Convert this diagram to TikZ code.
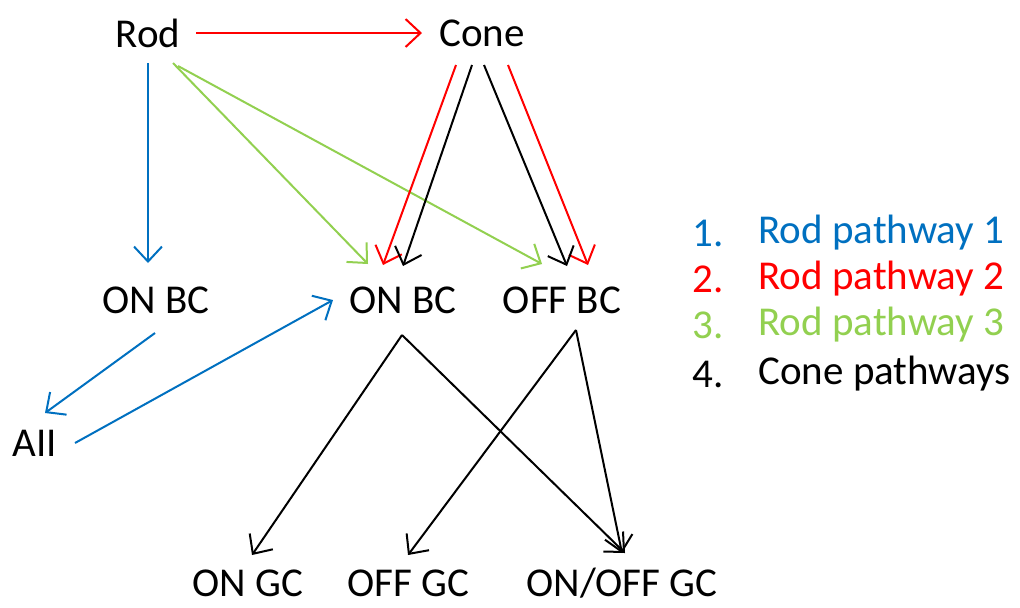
\documentclass[tikz,border=0pt]{standalone}
\usepackage{fontspec}
\setmainfont{Carlito}
\usetikzlibrary{arrows.meta}
\definecolor{rodblue}{RGB}{0,112,192}
\definecolor{rodred}{RGB}{255,0,0}
\definecolor{rodgreen}{RGB}{146,208,80}
\tikzset{
    cell/.style={inner sep=0pt, font=\fontsize{20.5}{24}\selectfont},
    legend/.style={cell, anchor=west},
    link/.style={-{Straight Barb[length=7.5pt,width=14pt]}, line width=1pt},
    bluelink/.style={link, draw=rodblue},
    redlink/.style={link, draw=rodred},
    greenlink/.style={link, draw=rodgreen},
    conelink/.style={link, draw=black}
}
\begin{document}
\begin{tikzpicture}[x=0.5pt, y=-0.5pt]
    \useasboundingbox (0,0) rectangle (1020,607);
    \node[cell] (rod) at (148,33) {Rod};
    \node[cell] (cone) at (482,33) {Cone};
    \node[cell] (onbc-left) at (156,300) {ON BC};
    \node[cell] (onbc) at (403,300) {ON BC};
    \node[cell] (offbc) at (562,300) {OFF BC};
    \node[cell] (aii) at (35,443) {AII};
    \node[cell] (ongc) at (248,583) {ON GC};
    \node[cell] (offgc) at (408,583) {OFF GC};
    \node[cell] (onoffgc) at (622,583) {ON/OFF GC};
    % legend
    \node[legend, text=rodblue] (num1) at (692,233) {1.};
    \node[legend, text=rodblue] (leg1) at (758,233) {Rod pathway 1};
    \node[legend, text=rodred] (num2) at (692,279) {2.};
    \node[legend, text=rodred] (leg2) at (758,279) {Rod pathway 2};
    \node[legend, text=rodgreen] (num3) at (692,325) {3.};
    \node[legend, text=rodgreen] (leg3) at (758,325) {Rod pathway 3};
    \node[legend] (num4) at (692,374) {4.};
    \node[legend] (leg4) at (758,374) {Cone pathways};
    % rod pathways
    \draw[redlink] ([shift={(48,0)}]rod.center) -- ([shift={(-60,0)}]cone.center);
    \draw[bluelink] ([shift={(0,30)}]rod.center) -- ([shift={(-8,-37)}]onbc-left.center);
    \draw[greenlink] ([shift={(25,30)}]rod.center) -- ([shift={(-35,-36)}]onbc.center);
    \draw[greenlink] ([shift={(30,33)}]rod.center) -- ([shift={(-20,-36)}]offbc.center);
    \draw[redlink] ([shift={(-26,32)}]cone.center) -- ([shift={(-20,-35)}]onbc.center);
    \draw[redlink] ([shift={(26,32)}]cone.center) -- ([shift={(26,-35)}]offbc.center);
    \draw[bluelink] ([shift={(-1,33)}]onbc-left.center) -- ([shift={(10,-30)}]aii.center);
    \draw[bluelink] ([shift={(40,0)}]aii.center) -- ([shift={(-70,0)}]onbc.center);
    % cone pathways
    \draw[conelink] ([shift={(-10,32)}]cone.center) -- ([shift={(0,-34)}]onbc.center);
    \draw[conelink] ([shift={(2,32)}]cone.center) -- ([shift={(5,-34)}]offbc.center);
    \draw[conelink] ([shift={(-1,35)}]onbc.center) -- ([shift={(4,-28)}]ongc.center);
    \draw[conelink] ([shift={(-1,35)}]onbc.center) -- ([shift={(3,-30)}]onoffgc.center);
    \draw[conelink] ([shift={(14,30)}]offbc.center) -- ([shift={(0,-28)}]offgc.center);
    \draw[conelink] ([shift={(14,30)}]offbc.center) -- ([shift={(0,-30)}]onoffgc.center);
\end{tikzpicture}
\end{document}
